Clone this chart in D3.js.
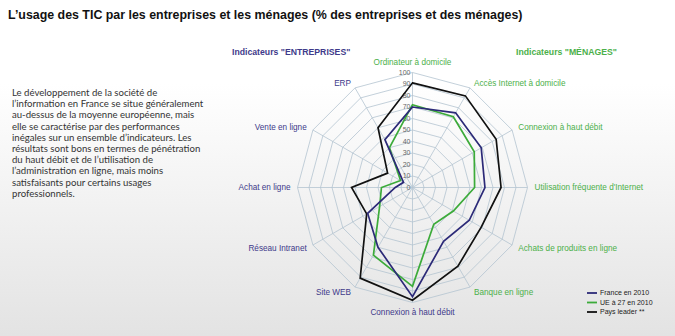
<!DOCTYPE html>
<html><head><meta charset="utf-8">
<script src="https://cdnjs.cloudflare.com/ajax/libs/d3/7.8.5/d3.min.js"></script>
<style>html,body{margin:0;padding:0;background:#fff;}svg{display:block;}</style>
</head><body><svg id="c" width="675" height="336"></svg>
<script>
const axesLabels = ["Ordinateur à domicile","Accès Internet à domicile","Connexion à haut débit","Utilisation fréquente d'Internet","Achats de produits en ligne","Banque en ligne","Connexion à haut débit","Site WEB","Réseau Intranet","Achat en ligne","Vente en ligne","ERP"];
const axesGroup = ["m","m","m","m","m","m","e","e","e","e","e","e"];
const seriesNames = ["France en 2010","UE à 27 en 2010","Pays leader **"];
const france = [70,75,69,63,57,54,95,60,45,15,9,48];
const ue27   = [72,71,62,54,41,37,86,68,33,27,12,40];
const leader = [91,92,84,77,69,79,98,91,46,53,25,60];
const ticks = [0,10,20,30,40,50,60,70,80,90,100];
const paragraph = ["Le développement de la société de","l’information en France se situe généralement","au-dessus de la moyenne européenne, mais","elle se caractérise par des performances","inégales sur un ensemble d’indicateurs. Les","résultats sont bons en termes de pénétration","du haut débit et de l’utilisation de","l’administration en ligne, mais moins","satisfaisants pour certains usages","professionnels."];

const svg = d3.select("#c");
const defs = svg.append("defs");
const grad = defs.append("linearGradient").attr("id","bg").attr("x1",0).attr("y1",0).attr("x2",0).attr("y2",1);
grad.append("stop").attr("offset","0").attr("stop-color","#ffffff");
grad.append("stop").attr("offset","0.25").attr("stop-color","#ffffff");
grad.append("stop").attr("offset","1").attr("stop-color","#e3e3e3");
svg.append("rect").attr("width",675).attr("height",336).attr("fill","url(#bg)");

const navy = "#2c2a78", green = "#3cab3a", black = "#111111";
const navyTxt = "#3e3a8a", greenTxt = "#4cb04a";

svg.append("text").attr("x",8).attr("y",19)
  .attr("font-family","Liberation Sans, Arial, sans-serif").attr("font-weight","bold")
  .attr("font-size",12.4).attr("fill","#111")
  .text("L’usage des TIC par les entreprises et les ménages (% des entreprises et des ménages)");

const para = svg.append("text").attr("font-family","Lato, 'Liberation Sans', sans-serif")
  .attr("font-size",9.6).attr("fill","#333");
paragraph.forEach((l,i)=>para.append("tspan").attr("x",12).attr("y",96+i*11.2).text(l));

const cx = 412.5, cy = 187.5, R = 115;
const n = axesLabels.length;
const r = d3.scaleLinear().domain([0,100]).range([0,R]);
const ang = i => i*2*Math.PI/n;
const g = svg.append("g").attr("transform",`translate(${cx},${cy})`);

// grid rings
ticks.slice(1).forEach(t=>{
  const pts = d3.range(n).map(i=>[r(t)*Math.sin(ang(i)), -r(t)*Math.cos(ang(i))]);
  g.append("polygon").attr("points",pts.map(p=>p.join(",")).join(" "))
    .attr("fill","none").attr("stroke","#b4c4d0").attr("stroke-width",0.8);
});
d3.range(n).forEach(i=>{
  g.append("line").attr("x1",0).attr("y1",0)
    .attr("x2",r(100)*Math.sin(ang(i))).attr("y2",-r(100)*Math.cos(ang(i)))
    .attr("stroke","#b4c4d0").attr("stroke-width",0.8);
});
// tick labels
ticks.forEach(t=>{
  g.append("text").attr("x",-2).attr("y",-r(t)).attr("dy","0.35em")
    .attr("text-anchor","end").attr("font-family","Liberation Sans, Arial, sans-serif")
    .attr("font-size",7).attr("fill","#666").text(t);
});

// series
const line = d3.lineRadial().angle((d,i)=>ang(i)).radius(d=>r(d)).curve(d3.curveLinearClosed);
[[leader,black],[ue27,green],[france,navy]].forEach(([d,c])=>{
  g.append("path").attr("d",line(d)).attr("fill","none").attr("stroke",c).attr("stroke-width",1.7).attr("stroke-linejoin","miter");
});

// axis labels
axesLabels.forEach((lab,i)=>{
  const a = ang(i), s = Math.sin(a), c = -Math.cos(a);
  const rr = (Math.abs(s)<0.01) ? 125 : 121;
  const anchor = Math.abs(s)<0.01 ? "middle" : (s>0 ? "start":"end");
  g.append("text").attr("x",rr*s + (Math.abs(s)<0.01?0:(s>0?1:-1))).attr("y",rr*c).attr("dy","0.35em")
    .attr("text-anchor",anchor).attr("font-family","Liberation Sans, Arial, sans-serif")
    .attr("font-size",8.2).attr("fill",axesGroup[i]==="m"?greenTxt:navyTxt).text(lab);
});

// headers
svg.append("text").attr("x",232).attr("y",55).attr("font-family","Liberation Sans, Arial, sans-serif")
  .attr("font-weight","bold").attr("font-size",8.7).attr("fill",navyTxt).text('Indicateurs "ENTREPRISES"');
svg.append("text").attr("x",516).attr("y",55).attr("font-family","Liberation Sans, Arial, sans-serif")
  .attr("font-weight","bold").attr("font-size",8.7).attr("fill",greenTxt).text('Indicateurs "MÉNAGES"');

// legend
const lg = svg.append("g");
[navy,green,black].forEach((c,i)=>{
  const y = 293+i*9.5;
  lg.append("line").attr("x1",587).attr("x2",597).attr("y1",y).attr("y2",y).attr("stroke",c).attr("stroke-width",1.8);
  lg.append("text").attr("x",600).attr("y",y).attr("dy","0.35em").attr("font-family","Liberation Sans, Arial, sans-serif")
    .attr("font-size",7).attr("fill","#222").text(seriesNames[i]);
});
</script></body></html>
